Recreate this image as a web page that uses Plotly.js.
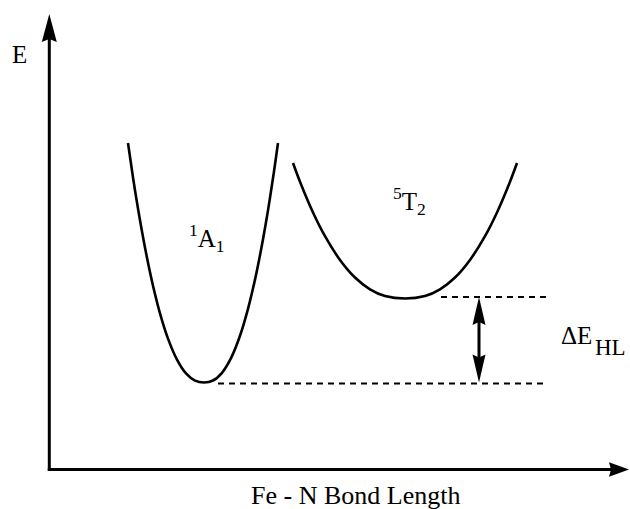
<!DOCTYPE html>
<html>
<head>
<meta charset="utf-8">
<script src="https://cdn.plot.ly/plotly-3.0.1.min.js"></script>
<style>
#chart svg text, #chart svg tspan { font-family: "Liberation Serif", "Times New Roman", serif !important; }
</style>
</head>
<body style="margin:0">
<div id="chart"></div>
<script>
// Low-spin (1A1) potential curve: Fe-N bond length vs energy (diagram units)
const bondLength_LS = [128, 133, 137, 142, 147, 153, 160, 168, 177, 186, 195, 204, 213, 222, 231, 240, 248, 255, 261, 266, 270, 274, 278];
const energy_LS     = [366, 331.5, 306.4, 277.4, 251.2, 223.3, 195.7, 170.4, 149.4, 135.6, 128.4, 126.5, 128.5, 136.2, 150.8, 173.2, 200.1, 229.4, 258.9, 286.7, 311.2, 337.5, 366];
// High-spin (5T2) potential curve
const bondLength_HS = [293, 301, 313, 325, 340, 355, 370, 385, 405, 425, 440, 455, 470, 485, 497, 509, 517];
const energy_HS     = [346, 324.7, 296.5, 272.8, 249.1, 231.5, 219.7, 213, 210.5, 213, 219.7, 231.5, 249.1, 272.8, 296.5, 324.7, 346];
// Labels
const stateLabels = ['<sup>1</sup>A<sub>1</sub>', '<sup>5</sup>T<sub>2</sub>'];
const axisLabels = ['Fe - N Bond Length', 'E'];
const gapLabel = ['ΔE', 'HL'];

(function () {
  var fam = 'Liberation Serif';
  var PW = 630, PH = 509;
  var toE = function (py) { return PH - py; };

  var eLS = Math.min.apply(null, energy_LS);
  var eHS = Math.min.apply(null, energy_HS);
  var xLS = bondLength_LS[energy_LS.indexOf(eLS)];
  var xHS = bondLength_HS[energy_HS.indexOf(eHS)];

  var curve = {color: '#000', width: 2.6, shape: 'spline', smoothing: 1};
  var dash = {color: '#000', width: 2, dash: '6px,5px'};
  var data = [
    {x: bondLength_LS, y: energy_LS, mode: 'lines', line: curve, hoverinfo: 'skip'},
    {x: bondLength_HS, y: energy_HS, mode: 'lines', line: curve, hoverinfo: 'skip'},
    {x: [xLS + 14, 548], y: [eLS - 1, eLS - 1], mode: 'lines', line: dash, hoverinfo: 'skip'},
    {x: [xHS + 36, 547], y: [eHS + 1.5, eHS + 1.5], mode: 'lines', line: dash, hoverinfo: 'skip'}
  ];

  function arrowHead(x, y, dx, dy, len, hw, notch) {
    var px = -dy, pv = dx;
    var bx = x - dx * len, by = y - dy * len;
    var nx = x - dx * (len - notch), ny = y - dy * (len - notch);
    return 'M' + x + ',' + y +
      ' L' + (bx + px * hw) + ',' + (by + pv * hw) +
      ' L' + nx + ',' + ny +
      ' L' + (bx - px * hw) + ',' + (by - pv * hw) + ' Z';
  }

  var ax = 49.3, ay = toE(469.5), gx = 479;
  var shp = [
    {type: 'line', x0: ax, x1: ax, y0: ay - 1.5, y1: toE(38), line: {color: '#000', width: 3}},
    {type: 'line', x0: ax - 1.5, x1: 612, y0: ay, y1: ay, line: {color: '#000', width: 3}},
    {type: 'path', path: arrowHead(ax, toE(14), 0, 1, 28, 7.5, 3), fillcolor: '#000', line: {width: 0}},
    {type: 'path', path: arrowHead(629, ay, 1, 0, 20, 7.2, 2), fillcolor: '#000', line: {width: 0}},
    {type: 'line', x0: gx, x1: gx, y0: eLS + 20, y1: eHS - 20, line: {color: '#000', width: 3}},
    {type: 'path', path: arrowHead(gx, eHS + 1.5, 0, 1, 28, 6.5, 3), fillcolor: '#000', line: {width: 0}},
    {type: 'path', path: arrowHead(gx, eLS, 0, -1, 28, 6.5, 3), fillcolor: '#000', line: {width: 0}}
  ];

  function lab(text, px, py, size) {
    return {text: text, x: px / PW, y: 1 - py / PH, xref: 'paper', yref: 'paper', showarrow: false,
      xanchor: 'center', yanchor: 'middle', font: {family: fam, size: size, color: '#000000'}};
  }

  var anns = [
    lab(axisLabels[1], 19.5, 54, 25),
    lab(axisLabels[0], 355, 495, 26),
    lab(stateLabels[0], 207, 238, 25),
    lab(stateLabels[1], 409, 201, 25),
    lab(gapLabel[0], 576, 335, 25),
    lab(gapLabel[1], 610, 347, 23)
  ];

  var lay = {
    width: PW, height: PH,
    margin: {l: 0, r: 0, t: 0, b: 0},
    paper_bgcolor: '#fff', plot_bgcolor: '#fff',
    showlegend: false,
    font: {family: fam, color: '#000000'},
    xaxis: {range: [0, PW], visible: false},
    yaxis: {range: [0, PH], visible: false},
    shapes: shp, annotations: anns
  };

  Plotly.newPlot('chart', data, lay, {displayModeBar: false});
})();
</script>
</body>
</html>
